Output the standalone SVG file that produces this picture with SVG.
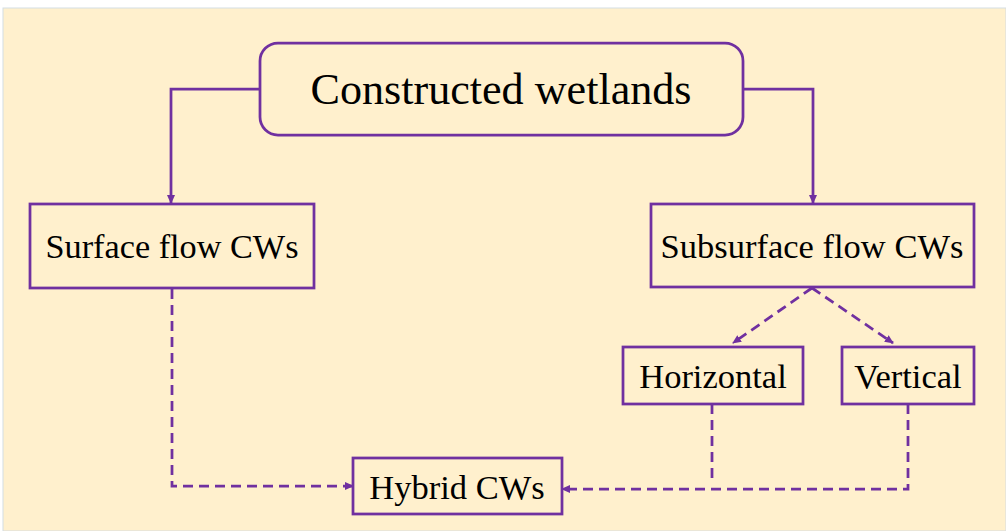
<svg xmlns="http://www.w3.org/2000/svg" width="1006" height="531" viewBox="0 0 1006 531">
<defs>
<style>
.box{fill:none;stroke:#7030A0;stroke-width:2.75}
.ln{fill:none;stroke:#7030A0;stroke-width:2.75}
.dash{stroke-dasharray:10 6}
.t{font-family:"Liberation Serif","Times New Roman",serif;fill:#000;text-anchor:middle}
</style>
<marker id="ah" markerWidth="10" markerHeight="10" refX="8" refY="5" orient="auto" markerUnits="userSpaceOnUse">
<path d="M0,1 L9,5 L0,9 Z" fill="#7030A0"/>
</marker>
</defs>
<rect x="0" y="0" width="1006" height="531" fill="#ffffff"/>
<rect x="3" y="8" width="1003" height="523" fill="#FFF0CD" stroke="#d4dde3" stroke-width="1"/>
<g id="connectors">
<path class="ln" d="M260,89 H171 V203" marker-end="url(#ah)"/>
<path class="ln" d="M743,89 H813 V203" marker-end="url(#ah)"/>
<path class="ln dash" d="M812,288 L733,343" marker-end="url(#ah)"/>
<path class="ln dash" d="M812,288 L893,343" marker-end="url(#ah)"/>
<path class="ln dash" d="M172,289 V486 H353" marker-end="url(#ah)"/>
<path class="ln dash" d="M712,404 V482"/>
<path class="ln dash" d="M908,404 V489 H562" marker-end="url(#ah)"/>
</g>
<g id="constructed">
<rect class="box" x="260" y="43" width="483" height="92" rx="18"/>
<text class="t" x="501" y="104" font-size="44" textLength="381" lengthAdjust="spacingAndGlyphs">Constructed wetlands</text>
</g>
<g id="surface">
<rect class="box" x="30" y="204" width="284" height="84"/>
<text class="t" x="172" y="258" font-size="34.5" textLength="253" lengthAdjust="spacingAndGlyphs">Surface flow CWs</text>
</g>
<g id="subsurface">
<rect class="box" x="651" y="204" width="323" height="83"/>
<text class="t" x="812" y="258" font-size="34.5">Subsurface flow CWs</text>
</g>
<g id="horizontal">
<rect class="box" x="623" y="347" width="180" height="57"/>
<text class="t" x="713" y="388" font-size="34.5">Horizontal</text>
</g>
<g id="vertical">
<rect class="box" x="842" y="347" width="132" height="57"/>
<text class="t" x="908" y="388" font-size="34.5">Vertical</text>
</g>
<g id="hybrid">
<rect class="box" x="353" y="458" width="209" height="56"/>
<text class="t" x="457" y="499" font-size="34.5">Hybrid CWs</text>
</g>
</svg>
